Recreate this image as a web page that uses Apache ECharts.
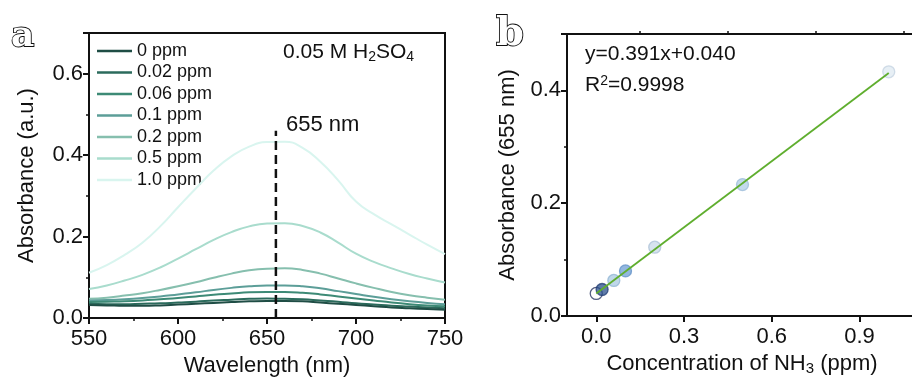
<!DOCTYPE html>
<html><head><meta charset="utf-8">
<script src="https://cdn.jsdelivr.net/npm/echarts@6/dist/echarts.min.js"></script>
<style>html,body{margin:0;padding:0;background:#fff;overflow:hidden}#c{width:912px;height:379px}</style>
</head><body><div id="c"></div>
<script>
// ---- Panel a: UV-vis spectra ----
const wavelengths = [550,560,570,580,590,600,610,620,630,640,650,660,670,680,690,700,710,720,730,740,750];
const seriesNames = ['0 ppm','0.02 ppm','0.06 ppm','0.1 ppm','0.2 ppm','0.5 ppm','1.0 ppm'];
const seriesColors = ['#1f4d45','#2b6b5c','#3d8a76','#5c9e98','#86bfae','#a9dccd','#d9f5ef'];
const abs0ppm   = [0.032,0.031,0.030,0.030,0.031,0.033,0.035,0.037,0.039,0.041,0.042,0.042,0.041,0.038,0.035,0.032,0.029,0.026,0.024,0.022,0.020];
const abs002ppm = [0.035,0.034,0.034,0.035,0.036,0.038,0.040,0.043,0.045,0.047,0.048,0.047,0.046,0.043,0.040,0.036,0.033,0.030,0.028,0.026,0.024];
const abs006ppm = [0.039,0.040,0.041,0.043,0.046,0.049,0.053,0.057,0.060,0.063,0.064,0.064,0.062,0.058,0.053,0.048,0.043,0.038,0.034,0.031,0.029];
const abs01ppm  = [0.043,0.044,0.046,0.049,0.053,0.058,0.063,0.069,0.074,0.078,0.080,0.080,0.078,0.073,0.066,0.059,0.052,0.046,0.041,0.037,0.034];
const abs02ppm  = [0.047,0.050,0.055,0.061,0.069,0.078,0.088,0.099,0.109,0.117,0.121,0.122,0.118,0.109,0.097,0.085,0.074,0.064,0.056,0.050,0.045];
const abs05ppm  = [0.071,0.080,0.092,0.106,0.124,0.146,0.169,0.192,0.211,0.225,0.232,0.233,0.226,0.210,0.185,0.158,0.138,0.122,0.108,0.097,0.087];
const abs10ppm  = [0.111,0.130,0.155,0.185,0.225,0.272,0.318,0.362,0.397,0.421,0.432,0.433,0.418,0.384,0.338,0.286,0.255,0.230,0.205,0.180,0.157];
const spectra = [abs0ppm,abs002ppm,abs006ppm,abs01ppm,abs02ppm,abs05ppm,abs10ppm];
const markerWavelength = 655;
const markerTop = 0.46;

// ---- Panel b: calibration ----
const concentrations = [0, 0.02, 0.06, 0.1, 0.2, 0.5, 1.0];
const abs655 = [0.040, 0.047, 0.063, 0.080, 0.122, 0.233, 0.433];
const pointFill = ['#ffffff','#2a4f8c','#a9c9e2','#6d9fd4','#c9dae8','#afcde6','#dfe9f2'];
const pointEdge = ['#1c2a5a','#1d3a70','#8fb3d3','#5b8cc4','#a9bfd6','#98b9d8','#c3d2e0'];
const fitSlope = 0.391, fitIntercept = 0.040;
const fitX = [0, 1.0];
const bXLabels = [0, 0.3, 0.6, 0.9];
const bXMinor = [0.15, 0.45, 0.75, 1.05];

const FONT = 'Liberation Sans, Arial, sans-serif';
const axisLine = {show:true, onZero:false, lineStyle:{color:'#111', width:2}};
const tick = {show:true, inside:false, length:6, lineStyle:{color:'#111', width:2}};
const minor = {show:true, splitNumber:2, length:3, lineStyle:{color:'#111', width:1.5}};
const lbl = {color:'#111', fontSize:22, fontFamily:FONT};
const nameStyle = {color:'#111', fontSize:22, fontFamily:FONT,
  rich:{sub:{fontSize:15, verticalAlign:'bottom', padding:[10,0,0,0], color:'#111', fontFamily:FONT}}};

const series = [];
spectra.forEach((arr,i)=>{
  series.push({name:seriesNames[i], type:'line', xAxisIndex:0, yAxisIndex:0, symbol:'none', showSymbol:false, smooth:true,
    data: wavelengths.map((w,j)=>[w,arr[j]]), lineStyle:{color:seriesColors[i], width:2}, itemStyle:{color:seriesColors[i]}, z: 10 - i});
});
series.push({name:'marker', type:'line', xAxisIndex:0, yAxisIndex:0, symbol:'none', silent:true,
  data:[[markerWavelength,0],[markerWavelength,markerTop]], lineStyle:{color:'#111', width:2.5, type:[9,5]}, z:20});
series.push({name:'fit', type:'line', xAxisIndex:1, yAxisIndex:1, symbol:'none',
  data: fitX.map(x=>[x, fitSlope*x+fitIntercept]), lineStyle:{color:'#5fae2e', width:1.8}, z:5});
series.push({name:'points', type:'scatter', xAxisIndex:1, yAxisIndex:1, symbolSize:12,
  data: concentrations.map((c,i)=>({value:[c,abs655[i]], itemStyle:{color:pointFill[i], opacity:0.75, borderColor:pointEdge[i], borderWidth:1.3}})), z:4});

const option = {
  animation:false,
  backgroundColor:'#fff',
  grid:[
    {left:89, top:33, width:356, height:285, show:true, borderColor:'#111', borderWidth:2, backgroundColor:'transparent', containLabel:false, outerBoundsMode:'none'},
    {left:567, top:34, width:400, height:282, show:false, containLabel:false, outerBoundsMode:'none'}
  ],
  legend:{show:true, orient:'vertical', left:92, top:36, itemWidth:35, itemHeight:2.5, itemGap:1.5,
    icon:'rect',
    data: seriesNames,
    textStyle:{color:'#111', fontSize:18, fontFamily:FONT, lineHeight:20}},
  xAxis:[
    {gridIndex:0, type:'value', min:550, max:750, interval:50, axisLine, axisTick:tick, minorTick:minor,
     splitLine:{show:false}, axisLabel:{...lbl, margin:10},
     name:'Wavelength (nm)', nameLocation:'middle', nameGap:33, nameTextStyle:nameStyle},
    {gridIndex:1, type:'value', min:-0.1, max:1.2675, axisLine,
     axisTick:{...tick, customValues:bXLabels},
     splitLine:{show:false},
     axisLabel:{...lbl, margin:10, customValues:bXLabels, formatter:v=>v.toFixed(1)},
     name:'Concentration of NH{sub|3} (ppm)', nameLocation:'middle', nameGap:35, nameTextStyle:{...nameStyle, padding:[0,50,0,0]}},
    {gridIndex:1, type:'value', min:-0.1, max:1.2675, axisLine:{show:false, onZero:false},
     axisTick:{show:true, inside:false, length:3, lineStyle:{color:'#111', width:1.5}, customValues:bXMinor},
     axisLabel:{show:false}, splitLine:{show:false}},
    {gridIndex:1, type:'value', position:'top', min:-0.1, max:1.2675, axisLine:{show:true, onZero:false, lineStyle:{color:'#111', width:2}},
     axisTick:{show:false}, axisLabel:{show:false}, splitLine:{show:false}}
  ],
  yAxis:[
    {gridIndex:0, type:'value', min:0, max:0.7, interval:0.2, axisLine, axisTick:tick, minorTick:minor,
     splitLine:{show:false}, axisLabel:{...lbl, margin:6, showMaxLabel:false, formatter:v=>v.toFixed(1)},
     name:'Absorbance (a.u.)', nameLocation:'middle', nameGap:51, nameTextStyle:nameStyle},
    {gridIndex:1, type:'value', min:0, max:0.5, interval:0.2, axisLine, axisTick:tick, minorTick:minor,
     splitLine:{show:false}, axisLabel:{...lbl, margin:6, showMaxLabel:false, formatter:v=>v.toFixed(1)},
     name:'Absorbance (655 nm)', nameLocation:'middle', nameGap:48, nameTextStyle:nameStyle}
  ],
  graphic:[
    {type:'text', left:10, top:18, style:{text:'a', fontSize:36, fontWeight:'bold', fontFamily:'DejaVu Serif, serif', fill:'#fff', stroke:'#111', lineWidth:1.8}},
    {type:'text', left:495, top:14, style:{text:'b', fontSize:40, fontWeight:'bold', fontFamily:'DejaVu Serif, serif', fill:'#fff', stroke:'#111', lineWidth:1.8}},
    {type:'text', left:283, top:42, style:{text:'0.05 M H{s|2}SO{s|4}', fontSize:21, fontFamily:FONT, fill:'#111',
      rich:{s:{fontSize:14, fontFamily:FONT, fill:'#111', padding:[9,0,0,0]}}}},
    {type:'text', left:286, top:114, style:{text:'655 nm', fontSize:22, fontFamily:FONT, fill:'#111'}},
    {type:'text', left:585, top:44, style:{text:'y=0.391x+0.040', fontSize:21, fontFamily:FONT, fill:'#111'}},
    {type:'text', left:585, top:74, style:{text:'R{sup|2}=0.9998', fontSize:21, fontFamily:FONT, fill:'#111',
      rich:{sup:{fontSize:14, fontFamily:FONT, fill:'#111', padding:[0,0,8,0]}}}}
  ],
  series
};
const chart = echarts.init(document.getElementById('c'), null, {renderer:'canvas'});
chart.setOption(option);
</script></body></html>
